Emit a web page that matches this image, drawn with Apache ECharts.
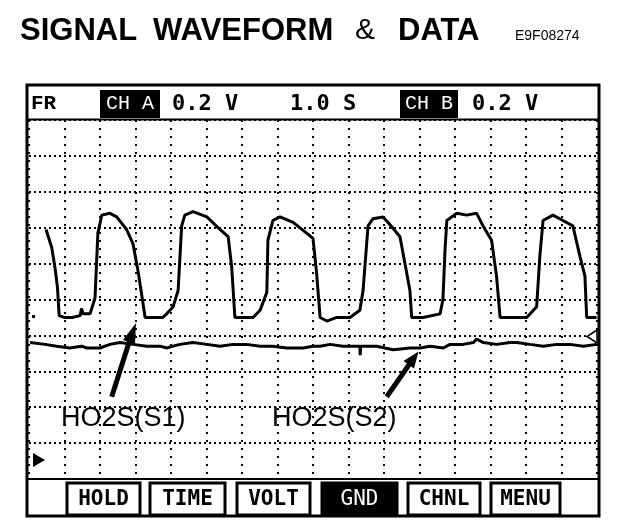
<!DOCTYPE html>
<html>
<head>
<meta charset="utf-8">
<script src="https://cdn.jsdelivr.net/npm/echarts@6/dist/echarts.min.js"></script>
<style>
html,body{margin:0;padding:0;background:#fff;}
#chart{width:624px;height:532px;}
</style>
</head>
<body>
<div id="chart"></div>
<script>
// Channel A (HO2S S1): [time s, volts]
const chA = [
  [0.48,1.39],[0.64,1.29],[0.73,1.18],[0.80,1.07],[0.85,0.91],[0.99,0.90],[1.21,0.90],[1.44,0.91],
  [1.48,0.95],[1.52,0.92],[1.72,0.92],[1.86,1.01],[1.94,1.37],[2.05,1.47],[2.28,1.48],[2.47,1.46],
  [2.75,1.39],[2.93,1.31],[3.07,1.16],[3.21,0.98],[3.27,0.90],[3.55,0.90],[3.77,0.90],[3.88,0.92],
  [4.06,0.96],[4.20,1.05],[4.30,1.41],[4.39,1.47],[4.62,1.49],[5.01,1.46],[5.38,1.39],[5.61,1.35],
  [5.71,1.18],[5.80,0.90],[6.08,0.90],[6.31,0.90],[6.51,0.94],[6.70,1.04],[6.73,1.33],[6.87,1.44],
  [7.07,1.46],[7.44,1.43],[7.82,1.37],[8.00,1.34],[8.10,1.15],[8.20,0.90],[8.39,0.88],[8.67,0.90],
  [9.04,0.90],[9.32,0.94],[9.41,1.05],[9.55,1.41],[9.69,1.45],[9.97,1.46],[10.11,1.43],[10.45,1.35],
  [10.59,1.20],[10.73,1.05],[10.78,0.90],[11.10,0.90],[11.58,0.92],[11.66,1.00],[11.72,1.28],[11.77,1.44],
  [12.05,1.48],[12.33,1.47],[12.61,1.48],[12.79,1.41],[13.03,1.33],[13.17,1.13],[13.27,0.90],[13.55,0.90],
  [13.83,0.90],[14.02,0.90],[14.30,0.96],[14.39,1.24],[14.48,1.44],[14.76,1.47],[15.04,1.44],[15.32,1.41],
  [15.52,1.24],[15.66,1.13],[15.71,0.90],[15.99,0.90]
];
// Channel B (HO2S S2): [time s, volts]
const chB = [
  [0.03,0.76],[0.45,0.75],[0.78,0.74],[1.15,0.73],[1.48,0.74],[1.63,0.73],[2.00,0.73],[2.28,0.75],
  [2.56,0.76],[2.93,0.75],[3.32,0.74],[3.69,0.74],[3.88,0.73],[4.06,0.74],[4.25,0.75],[4.62,0.76],
  [5.01,0.75],[5.38,0.74],[5.75,0.75],[6.13,0.75],[6.51,0.74],[6.87,0.74],[7.26,0.73],[7.72,0.73],
  [8.00,0.74],[8.20,0.74],[8.48,0.75],[8.85,0.74],[9.32,0.74],[9.33,0.69],[9.34,0.74],[9.79,0.74],
  [10.26,0.72],[10.73,0.73],[11.01,0.73],[11.30,0.74],[11.67,0.73],[11.86,0.75],[12.23,0.75],[12.52,0.76],
  [12.61,0.78],[12.80,0.76],[13.17,0.75],[13.55,0.76],[13.74,0.76],[14.11,0.75],[14.49,0.74],[14.86,0.75],
  [15.24,0.75],[15.62,0.74],[15.99,0.75]
];
const headerItems = ['FR','CH A','0.2 V','1.0 S','CH B','0.2 V'];
const buttons = ['HOLD','TIME','VOLT','GND','CHNL','MENU'];
const labelS1 = 'HO2S(S1)';
const labelS2 = 'HO2S(S2)';

const chart = echarts.init(document.getElementById('chart'), null, {renderer:'canvas'});

const mono = '"DejaVu Sans Mono", "Liberation Mono", monospace';
function txt(x, y, text, font, fill, align) {
  return {type:'text', x:x, y:y, z:20,
    style:{text:text, font:font, fill:fill, align:align||'left', textAlign:align||'left',
      verticalAlign:'middle', textVerticalAlign:'middle'}};
}

const graphics = [];
// Title
graphics.push(txt(20, 31, 'SIGNAL', 'bold 31px "Liberation Sans", Arial, sans-serif', '#000'));
graphics.push(txt(153, 31, 'WAVEFORM', 'bold 31px "Liberation Sans", Arial, sans-serif', '#000'));
graphics.push(txt(355, 31, '&', '30px "Liberation Sans", Arial, sans-serif', '#000'));
graphics.push(txt(398, 31, 'DATA', 'bold 31px "Liberation Sans", Arial, sans-serif', '#000'));
graphics.push(txt(515, 36, 'E9F08274', '14px "Liberation Sans", Arial, sans-serif', '#000'));

// Outer frame
graphics.push({type:'rect', z:15, shape:{x:27, y:85, width:572, height:431},
  style:{fill:'none', stroke:'#000', lineWidth:3}});
graphics.push({type:'line', z:15, shape:{x1:27, y1:119.5, x2:599, y2:119.5}, style:{stroke:'#000', lineWidth:2}});
graphics.push({type:'line', z:15, shape:{x1:27, y1:479, x2:599, y2:479}, style:{stroke:'#000', lineWidth:2}});

// Header
graphics.push({type:'rect', z:18, shape:{x:100, y:90, width:60, height:28}, style:{fill:'#000'}});
graphics.push({type:'rect', z:18, shape:{x:400, y:90, width:58, height:28}, style:{fill:'#000'}});
graphics.push(txt(31, 104, headerItems[0], 'bold 21px "Liberation Mono", "DejaVu Sans Mono", monospace', '#000'));
graphics.push(txt(130, 104, headerItems[1], '20px "Liberation Mono", monospace', '#fff', 'center'));
graphics.push(txt(172, 104, headerItems[2], 'bold 22px ' + mono, '#000'));
graphics.push(txt(290, 104, headerItems[3], 'bold 22px ' + mono, '#000'));
graphics.push(txt(429, 104, headerItems[4], '20px "Liberation Mono", monospace', '#fff', 'center'));
graphics.push(txt(472, 104, headerItems[5], 'bold 22px ' + mono, '#000'));

// Buttons
const btnX = [67, 150, 237, 322, 408, 491];
const btnW = [73, 75, 73, 75, 72, 69];
buttons.forEach(function(b, i){
  const dark = b === 'GND';
  graphics.push({type:'rect', z:18, shape:{x:btnX[i], y:483, width:btnW[i], height:32},
    style:{fill: dark ? '#000' : '#fff', stroke:'#000', lineWidth:3}});
  graphics.push(txt(btnX[i] + btnW[i]/2, 499.5, b,
    (dark ? '' : 'bold ') + '21px ' + mono, dark ? '#fff' : '#000', 'center'));
});

// Markers
graphics.push({type:'polygon', z:18, shape:{points:[[33,453],[45,460],[33,467]]}, style:{fill:'#000'}});
graphics.push({type:'polygon', z:18, shape:{points:[[597,330],[587,336.5],[597,343]]},
  style:{fill:'#fff', stroke:'#000', lineWidth:1.5}});
graphics.push({type:'rect', z:18, shape:{x:32, y:315, width:3, height:3}, style:{fill:'#000'}});

// Arrows
graphics.push({type:'line', z:18, shape:{x1:111.7, y1:396.7, x2:129.5, y2:341}, style:{stroke:'#000', lineWidth:5}});
graphics.push({type:'polygon', z:18, shape:{points:[[136,323],[135,344],[123,340]]}, style:{fill:'#000'}});
graphics.push({type:'line', z:18, shape:{x1:386.7, y1:396.7, x2:409.5, y2:364}, style:{stroke:'#000', lineWidth:5}});
graphics.push({type:'polygon', z:18, shape:{points:[[418.5,351.5],[414,368.5],[403.5,361]]}, style:{fill:'#000'}});

// Labels
graphics.push(txt(61, 419, labelS1, '27px "Liberation Sans", Arial, sans-serif', '#000'));
graphics.push(txt(272, 419, labelS2, '27px "Liberation Sans", Arial, sans-serif', '#000'));

const option = {
  backgroundColor:'#fff',
  animation:false,
  grid:{left:29, right:27, top:120, bottom:53, containLabel:false},
  xAxis:{type:'value', min:0, max:16, interval:1,
    axisLine:{show:false}, axisTick:{show:false}, axisLabel:{show:false},
    splitLine:{show:true, lineStyle:{color:'#000', width:2, type:[2,6]}}},
  yAxis:{type:'value', min:0, max:2, interval:0.2,
    axisLine:{show:false}, axisTick:{show:false}, axisLabel:{show:false},
    splitLine:{show:true, lineStyle:{color:'#000', width:2, type:[2,3]}}},
  series:[
    {name:'CH A', type:'line', data:chA, showSymbol:false, symbol:'none', z:5,
      lineStyle:{color:'#000', width:3}},
    {name:'CH B', type:'line', data:chB, showSymbol:false, symbol:'none', z:5,
      lineStyle:{color:'#000', width:3}}
  ],
  graphic:graphics
};
chart.setOption(option);
</script>
</body>
</html>
